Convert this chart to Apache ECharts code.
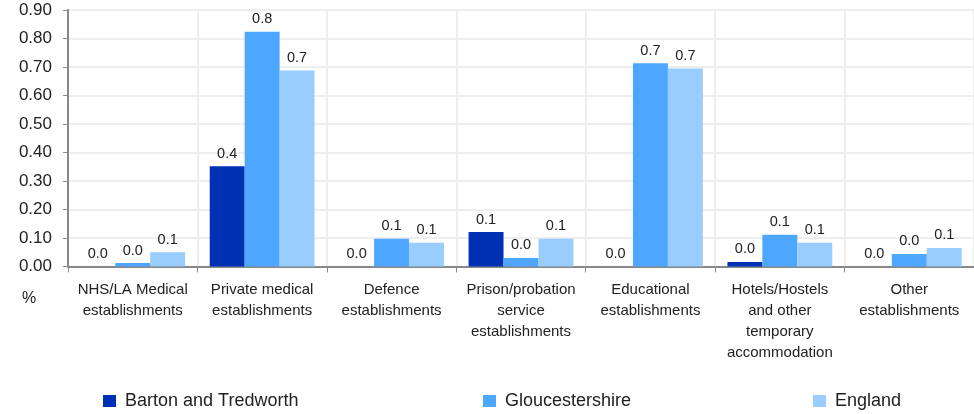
<!DOCTYPE html>
<html>
<head>
<meta charset="utf-8">
<script src="https://cdn.jsdelivr.net/npm/echarts@6/dist/echarts.min.js"></script>
<style>html,body{margin:0;padding:0;background:#fff}#c{width:974px;height:414px}</style>
</head>
<body>
<div id="c"></div>
<script>
const categories = [
  "NHS/LA Medical\nestablishments",
  "Private medical\nestablishments",
  "Defence\nestablishments",
  "Prison/probation\nservice\nestablishments",
  "Educational\nestablishments",
  "Hotels/Hostels\nand other\ntemporary\naccommodation",
  "Other\nestablishments"
];
const seriesNames = ["Barton and Tredworth", "Gloucestershire", "England"];
const barton = [0.0, 0.352, 0.0, 0.121, 0.0, 0.016, 0.0];
const gloucestershire = [0.012, 0.824, 0.097, 0.030, 0.713, 0.111, 0.044];
const england = [0.050, 0.688, 0.083, 0.097, 0.695, 0.083, 0.065];
const yTicks = { min: 0, max: 0.9, interval: 0.1 };

const colors = ["#0031b4", "#4da6ff", "#99ccff"];
const font = "Liberation Sans, Arial, sans-serif";
const chart = echarts.init(document.getElementById('c'));

function mkSeries(name, data, color) {
  return {
    name: name, type: 'bar', data: data, barGap: '0%', barCategoryGap: '19%',
    itemStyle: { color: color },
    label: { show: true, position: 'top', distance: 5, fontFamily: font, fontSize: 14.5, color: '#222',
      formatter: p => p.value.toFixed(1) }
  };
}
function mkLegend(name, left) {
  return { data: [name], left: left, top: 392, itemWidth: 13, itemHeight: 12, icon: 'rect',
    textStyle: { fontFamily: font, fontSize: 18, color: '#222', padding: [0, 0, 0, 4] },
    itemGap: 0, padding: 0, selectedMode: false };
}
chart.setOption({
  animation: false,
  grid: { left: 68, right: -4, top: 10, bottom: 147.5 },
  legend: [mkLegend(seriesNames[0], 103), mkLegend(seriesNames[1], 483), mkLegend(seriesNames[2], 813)],
  xAxis: {
    type: 'category', data: categories,
    axisLine: { lineStyle: { color: '#888', width: 2 } },
    axisTick: { show: true, length: 6, lineStyle: { color: '#888' } },
    splitLine: { show: true, lineStyle: { color: '#eeeeee', width: 2 } },
    axisLabel: { fontFamily: font, fontSize: 15, color: '#222', lineHeight: 21, margin: 13, interval: 0 }
  },
  yAxis: {
    type: 'value', min: yTicks.min, max: yTicks.max, interval: yTicks.interval,
    axisLine: { show: true, lineStyle: { color: '#888', width: 2 } },
    axisTick: { show: true, length: 5, lineStyle: { color: '#888' } },
    splitLine: { lineStyle: { color: '#eeeeee', width: 2 } },
    axisLabel: { fontFamily: font, fontSize: 17, color: '#222', margin: 16, formatter: v => v.toFixed(2) }
  },
  graphic: [{ type: 'text', left: 22, top: 291, style: { text: '%', font: '16px ' + font, fill: '#222' } }],
  series: [
    mkSeries(seriesNames[0], barton, colors[0]),
    mkSeries(seriesNames[1], gloucestershire, colors[1]),
    mkSeries(seriesNames[2], england, colors[2])
  ]
});
</script>
</body>
</html>
